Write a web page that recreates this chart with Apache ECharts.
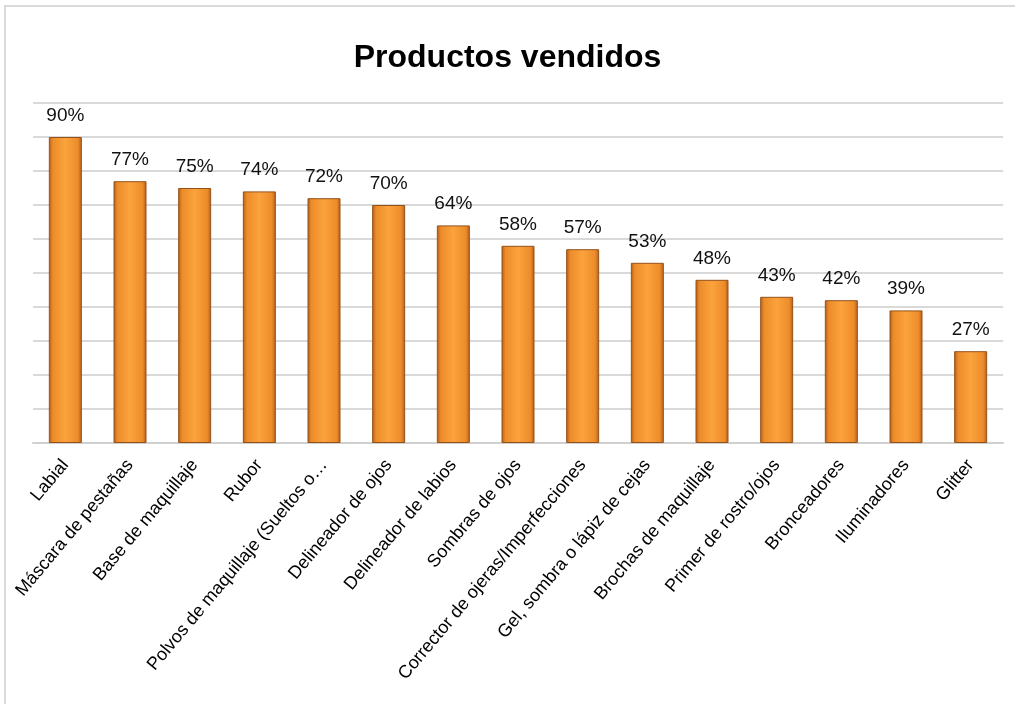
<!DOCTYPE html>
<html>
<head>
<meta charset="utf-8">
<script src="https://cdn.jsdelivr.net/npm/echarts@6/dist/echarts.min.js"></script>
<style>
  html, body { margin: 0; padding: 0; background: #fff; }
  #chart { width: 1015px; height: 704px; }
</style>
</head>
<body>
<div id="chart"></div>
<script>
const categories = [
  'Labial',
  'Máscara de pestañas',
  'Base de maquillaje',
  'Rubor',
  'Polvos de maquillaje (Sueltos o…',
  'Delineador de ojos',
  'Delineador de labios',
  'Sombras de ojos',
  'Corrector de ojeras/Imperfecciones',
  'Gel, sombra o lápiz de cejas',
  'Brochas de maquillaje',
  'Primer de rostro/ojos',
  'Bronceadores',
  'Iluminadores',
  'Glitter'
]
const sold = [90, 77, 75, 74, 72, 70, 64, 58, 57, 53, 48, 43, 42, 39, 27]

const chart = echarts.init(document.getElementById('chart'))

const barFill = new echarts.graphic.LinearGradient(0, 0, 1, 0, [
  { offset: 0, color: '#b45c1a' },
  { offset: 0.12, color: '#ec8c2a' },
  { offset: 0.5, color: '#fba33d' },
  { offset: 0.88, color: '#ec8c2a' },
  { offset: 1, color: '#b45c1a' }
])

chart.setOption({
  backgroundColor: '#fff',
  animation: false,
  title: {
    text: 'Productos vendidos',
    left: 'center',
    top: 37,
    textStyle: {
      fontFamily: 'Liberation Sans',
      fontWeight: 'bold',
      fontSize: 32,
      color: '#000'
    }
  },
  graphic: [
    {
      type: 'polyline',
      shape: { points: [[5, 704], [5, 6], [1015, 6]] },
      style: { stroke: '#d9d9d9', lineWidth: 2, fill: null },
      silent: true
    }
  ],
  grid: {
    left: 33,
    right: 12,
    top: 103,
    bottom: 261
  },
  xAxis: {
    type: 'category',
    data: categories,
    axisTick: { show: false },
    axisLine: { lineStyle: { color: '#d0d0d0', width: 2 } },
    axisLabel: {
      interval: 0,
      rotate: 50,
      margin: 19,
      fontFamily: 'Liberation Sans',
      fontSize: 18,
      color: '#000'
    }
  },
  yAxis: {
    type: 'value',
    min: 0,
    max: 100,
    interval: 10,
    axisLabel: { show: false },
    axisLine: { show: false },
    axisTick: { show: false },
    splitLine: { lineStyle: { color: '#d9d9d9', width: 2 } }
  },
  series: [
    {
      type: 'bar',
      data: sold,
      barWidth: 33,
      itemStyle: {
        color: barFill,
        borderColor: '#94521a',
        borderWidth: 1
      },
      label: {
        show: true,
        position: 'top',
        distance: 12,
        formatter: '{c}%',
        fontFamily: 'Liberation Sans',
        fontSize: 19,
        color: '#111'
      }
    }
  ]
})
</script>
</body>
</html>
